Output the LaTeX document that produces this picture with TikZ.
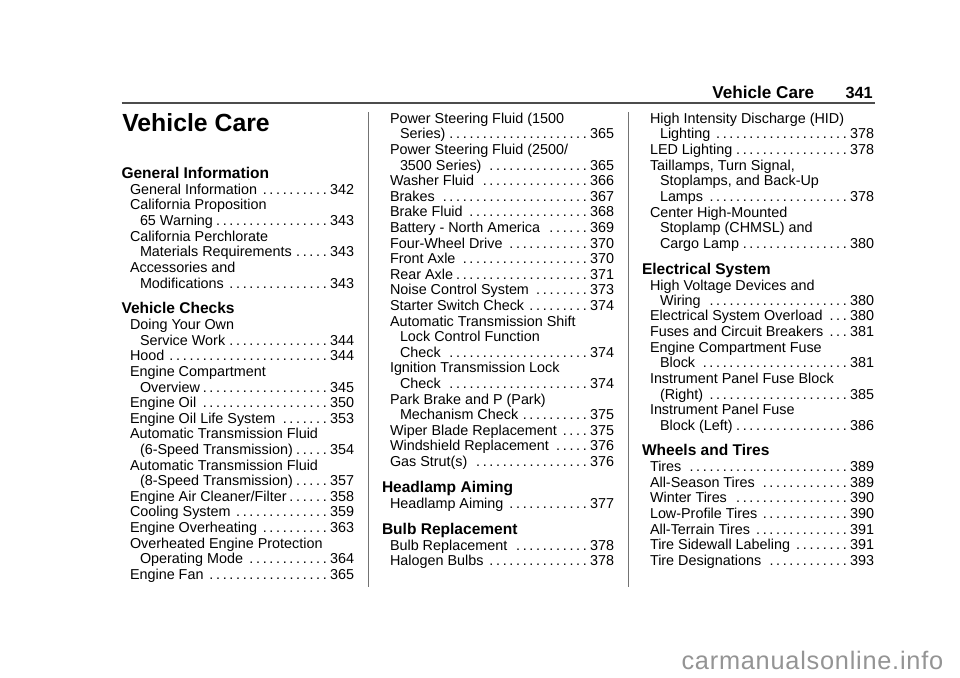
\documentclass[tikz,border=0pt]{standalone}
\usepackage{fontspec}
\setmainfont{Liberation Sans}
\newfontfamily\wmfont[LetterSpace=3]{Liberation Sans}
\newdimen\wtmp
\newcount\ndots
\newcount\dotc
\newsavebox\tbox
\newsavebox\pbox
\newcommand{\bodyf}{\fontsize{10.78pt}{12pt}\selectfont}
\newcommand{\headf}{\fontsize{11.65pt}{13pt}\bfseries\selectfont}
% one table-of-contents line with a run of dots: text, page, total width
\newcommand{\dotrun}[1]{\dotc=#1 \loop\ifnum\dotc>0 \hbox to 5pt{\hss.}\advance\dotc by -1 \repeat}
\newcommand{\tocrow}[3]{%
  \sbox\tbox{#1}\sbox\pbox{#2}%
  \wtmp=#3\relax
  \advance\wtmp by -\wd\tbox
  \advance\wtmp by -\wd\pbox
  \advance\wtmp by -2.4pt
  \advance\wtmp by -2.5pt
  \ndots=\numexpr\wtmp/\dimexpr 5pt\relax\relax
  \hbox to #3{\usebox\tbox\hfill\dotrun{\the\ndots}\kern2.4pt\usebox\pbox}}
\tikzset{
  x=0.75pt,y=-0.75pt,
  plain/.style={anchor=base west,inner sep=0pt,outer sep=0pt,font=\bodyf},
  headline/.style={anchor=base west,inner sep=0pt,outer sep=0pt,font=\headf},
  rulev/.style={draw=black!55,line width=1.1pt},
  ruleh/.style={draw=black!70,line width=0.9pt},
}
% \E{left x}{right x}{baseline y}{text}{page}
\newcommand{\E}[5]{\node[plain] at (#1,#3) {\pgfmathsetlengthmacro\wrow{(#2-#1)*0.75}\tocrow{#4}{#5}{\wrow}};}
\newcommand{\T}[3]{\node[plain] at (#1,#2) {#3};}
\newcommand{\Hd}[3]{\node[headline] at (#1,#2) {#3};}
\begin{document}
\begin{tikzpicture}
\useasboundingbox (0,0) rectangle (960,678);
\fill[white] (0,0) rectangle (960,678);
\coordinate (rs) at (121.5,103); \coordinate (re) at (874.7,103);
\draw[ruleh] (rs) -- (re);
\coordinate (v1a) at (368.3,112); \coordinate (v1b) at (368.3,587);
\coordinate (v2a) at (628.3,112); \coordinate (v2b) at (628.3,587);
\draw[rulev] (v1a) -- (v1b);
\draw[rulev] (v2a) -- (v2b);
% running head
\node[anchor=base east,inner sep=0pt,font=\fontsize{12.85pt}{14pt}\bfseries\selectfont] (rh) at (814.5,98.3) {Vehicle Care};
\node[anchor=base east,inner sep=0pt,font=\fontsize{12.2pt}{14pt}\bfseries\selectfont] (pg) at (873,98.3) {341};
\node[anchor=base west,inner sep=0pt,font=\fontsize{18.6pt}{20pt}\bfseries\selectfont] (title) at (122,131.7) {Vehicle Care};
% column 1
\Hd{121.5}{178.3}{General Information}
\E{130}{354}{194}{General Information}{342}
\T{130}{209.7}{California Proposition}
\E{140}{354}{225.3}{65 Warning}{343}
\T{130}{241}{California Perchlorate}
\E{140}{354}{256.6}{Materials Requirements}{343}
\T{130}{272.4}{Accessories and}
\E{140}{354}{288.2}{Modifications}{343}
\Hd{121.5}{313.3}{Vehicle Checks}
\T{130}{329.7}{Doing Your Own}
\E{140}{354}{345.3}{Service Work}{344}
\E{130}{354}{360.9}{Hood}{344}
\T{130}{376.5}{Engine Compartment}
\E{140}{354}{392.1}{Overview}{345}
\E{130}{354}{407.7}{Engine Oil}{350}
\E{130}{354}{423.3}{Engine Oil Life System}{353}
\T{130}{438.9}{Automatic Transmission Fluid}
\E{140}{354}{454.5}{(6-Speed Transmission)}{354}
\T{130}{470.1}{Automatic Transmission Fluid}
\E{140}{354}{485.7}{(8-Speed Transmission)}{357}
\E{130}{354}{501.3}{Engine Air Cleaner/Filter}{358}
\E{130}{354}{516.9}{Cooling System}{359}
\E{130}{354}{532.5}{Engine Overheating}{363}
\T{130}{548.1}{Overheated Engine Protection}
\E{140}{354}{563.7}{Operating Mode}{364}
\E{130}{354}{579.3}{Engine Fan}{365}
% column 2
\T{390}{123.3}{Power Steering Fluid (1500}
\E{400}{614}{138.9}{Series)}{365}
\T{390}{154.5}{Power Steering Fluid (2500/}
\E{400}{614}{170.1}{3500 Series)}{365}
\E{390}{614}{185.7}{Washer Fluid}{366}
\E{390}{614}{201.3}{Brakes}{367}
\E{390}{614}{216.9}{Brake Fluid}{368}
\E{390}{614}{232.5}{Battery - North America}{369}
\E{390}{614}{248.1}{Four-Wheel Drive}{370}
\E{390}{614}{263.7}{Front Axle}{370}
\E{390}{614}{279.3}{Rear Axle}{371}
\E{390}{614}{294.9}{Noise Control System}{373}
\E{390}{614}{310.5}{Starter Switch Check}{374}
\T{390}{326.1}{Automatic Transmission Shift}
\T{400}{341.7}{Lock Control Function}
\E{400}{614}{357.3}{Check}{374}
\T{390}{372.9}{Ignition Transmission Lock}
\E{400}{614}{388.5}{Check}{374}
\T{390}{404.1}{Park Brake and P (Park)}
\E{400}{614}{419.7}{Mechanism Check}{375}
\E{390}{614}{435.3}{Wiper Blade Replacement}{375}
\E{390}{614}{450.6}{Windshield Replacement}{376}
\E{390}{614}{466}{Gas Strut(s)}{376}
\Hd{382}{492.3}{Headlamp Aiming}
\E{390}{614}{508.3}{Headlamp Aiming}{377}
\Hd{382}{534}{Bulb Replacement}
\E{390}{614}{550}{Bulb Replacement}{378}
\E{390}{614}{565.5}{Halogen Bulbs}{378}
% column 3
\T{650}{123.3}{High Intensity Discharge (HID)}
\E{660}{874}{138.9}{Lighting}{378}
\E{650}{874}{154.5}{LED Lighting}{378}
\T{650}{170.1}{Taillamps, Turn Signal,}
\T{660}{185.7}{Stoplamps, and Back-Up}
\E{660}{874}{201.3}{Lamps}{378}
\T{650}{217}{Center High-Mounted}
\T{660}{232.8}{Stoplamp (CHMSL) and}
\E{660}{874}{248.7}{Cargo Lamp}{380}
\Hd{642}{274}{Electrical System}
\T{650}{290}{High Voltage Devices and}
\E{660}{874}{305.3}{Wiring}{380}
\E{650}{874}{320.9}{Electrical System Overload}{380}
\E{650}{874}{336.6}{Fuses and Circuit Breakers}{381}
\T{650}{352.2}{Engine Compartment Fuse}
\E{660}{874}{367.8}{Block}{381}
\T{650}{383.4}{Instrument Panel Fuse Block}
\E{660}{874}{399}{(Right)}{385}
\T{650}{414.5}{Instrument Panel Fuse}
\E{660}{874}{430.2}{Block (Left)}{386}
\Hd{642}{455.7}{Wheels and Tires}
\E{650}{874}{471.7}{Tires}{389}
\E{650}{874}{487.2}{All-Season Tires}{389}
\E{650}{874}{502.8}{Winter Tires}{390}
\E{650}{874}{518.4}{Low-Profile Tires}{390}
\E{650}{874}{534}{All-Terrain Tires}{391}
\E{650}{874}{549.6}{Tire Sidewall Labeling}{391}
\E{650}{874}{565.2}{Tire Designations}{393}
% watermark
\node[anchor=base east,inner sep=0pt,text=black!42,font=\wmfont\fontsize{19pt}{20pt}\selectfont] (wm) at (943.5,669.3) {carmanualsonline.info};
\end{tikzpicture}
\end{document}
